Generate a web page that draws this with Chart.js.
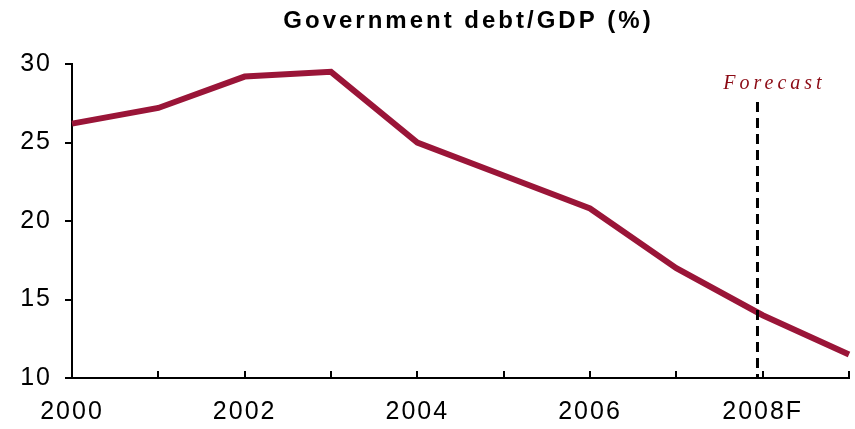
<!DOCTYPE html>
<html>
<head>
<meta charset="utf-8">
<script src="https://cdn.jsdelivr.net/npm/chart.js@4"></script>
<style>
  html, body { margin: 0; padding: 0; background: #fff; }
  #wrap { width: 855px; height: 429px; position: relative; }
</style>
</head>
<body>
<div id="wrap"><canvas id="chart"></canvas></div>
<script>
const years = ['2000', '2001', '2002', '2003', '2004', '2005', '2006', '2007', '2008', '2009'];
const tickLabels = ['2000', '', '2002', '', '2004', '', '2006', '', '2008F', ''];
const debtToGdp = [26.2, 27.2, 29.2, 29.5, 25.0, 22.9, 20.8, 17.0, 14.0, 11.5];
const yTicks = [10, 15, 20, 25, 30];
const titleText = 'Government debt/GDP (%)';
const forecastLabel = 'Forecast';
const forecastAt = 7.94; // position on the category axis (index)

const lineColor = '#9a1538';
const sans = '"Liberation Sans", Arial, sans-serif';

// the source text is drawn wide, so space the tick labels out a little
const spacing = {
  id: 'spacing',
  beforeDraw(chart) { chart.ctx.save(); chart.ctx.letterSpacing = '2px'; },
  afterDraw(chart) { chart.ctx.restore(); }
};

// title, inward x ticks and the forecast marker
const markers = {
  id: 'markers',
  afterDatasetsDraw(chart) {
    const { ctx, chartArea, scales: { x } } = chart;
    ctx.save();
    ctx.letterSpacing = '0px';
    ctx.strokeStyle = '#000';
    ctx.lineWidth = 2;
    years.forEach((_, i) => {
      const px = Math.round(x.getPixelForValue(i));
      ctx.beginPath();
      ctx.moveTo(px, chartArea.bottom);
      ctx.lineTo(px, chartArea.bottom - 7);
      ctx.stroke();
    });

    const i0 = Math.floor(forecastAt);
    const p0 = x.getPixelForValue(i0);
    const p1 = x.getPixelForValue(i0 + 1);
    const fx = p0 + (forecastAt - i0) * (p1 - p0);

    ctx.setLineDash([10, 6]);
    ctx.lineWidth = 3;
    ctx.beginPath();
    ctx.moveTo(fx, chartArea.top + 38);
    ctx.lineTo(fx, chartArea.bottom);
    ctx.stroke();
    ctx.setLineDash([]);

    ctx.fillStyle = '#8b0a14';
    ctx.font = 'italic 20px "Liberation Serif", "Times New Roman", serif';
    ctx.letterSpacing = '4px';
    ctx.textAlign = 'center';
    ctx.textBaseline = 'middle';
    ctx.fillText(forecastLabel, fx + 17, chartArea.top + 20);

    ctx.fillStyle = '#000';
    ctx.font = 'bold 24px ' + sans;
    ctx.letterSpacing = '3px';
    ctx.fillText(titleText, (chartArea.left + chartArea.right) / 2 + 8, 21);
    ctx.restore();
  }
};

new Chart(document.getElementById('chart'), {
  type: 'line',
  data: {
    labels: years,
    datasets: [{
      data: debtToGdp,
      borderColor: lineColor,
      borderWidth: 6,
      pointRadius: 0,
      tension: 0,
      fill: false
    }]
  },
  options: {
    responsive: true,
    maintainAspectRatio: false,
    animation: false,
    layout: { padding: { top: 64, right: 6, bottom: 0, left: 0 } },
    plugins: {
      legend: { display: false },
      tooltip: { enabled: false },
      title: { display: false }
    },
    scales: {
      x: {
        type: 'category',
        offset: false,
        border: { display: true, color: '#000', width: 2 },
        grid: { display: false, drawTicks: false },
        ticks: {
          autoSkip: false,
          maxRotation: 0,
          padding: 19,
          color: '#000',
          font: { family: sans, size: 25 },
          callback: (value, index) => tickLabels[index]
        },
        afterFit: (scale) => {
          scale.height = 51;
          scale.paddingLeft = 0;
          scale.paddingRight = 0;
        }
      },
      y: {
        min: 10,
        max: 30,
        border: { display: true, color: '#000', width: 2 },
        grid: { drawOnChartArea: false, drawTicks: true, tickLength: 7, color: '#000', lineWidth: 2 },
        afterBuildTicks: (scale) => { scale.ticks = yTicks.map(v => ({ value: v })); },
        ticks: {
          padding: 13,
          color: '#000',
          font: { family: sans, size: 25 }
        },
        afterFit: (scale) => {
          scale.width = 72;
          scale.paddingTop = 0;
          scale.paddingBottom = 0;
        }
      }
    }
  },
  plugins: [spacing, markers]
});
</script>
</body>
</html>
